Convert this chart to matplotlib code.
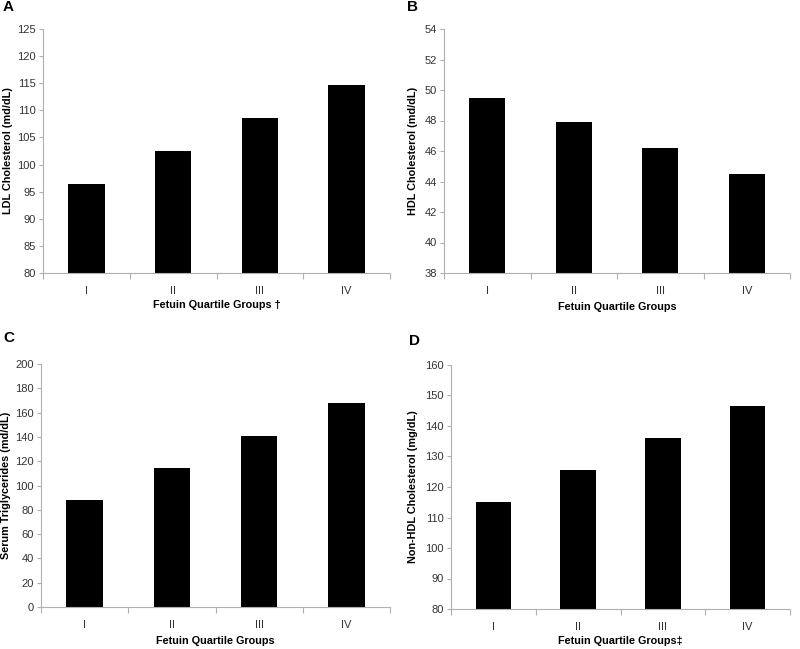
import numpy as np
import matplotlib
matplotlib.use("Agg")
import matplotlib.pyplot as plt

plt.rcParams['font.family'] = ['Liberation Sans', 'DejaVu Sans']

groups = ['I', 'II', 'III', 'IV']
ldl = [96.4, 102.5, 108.6, 114.7]
hdl = [49.5, 47.9, 46.2, 44.5]
trig = [87.8, 114.0, 140.9, 167.7]
nonhdl = [115.2, 125.6, 136.2, 146.6]

W, H = 800, 649
fig = plt.figure(figsize=(8, 6.49), dpi=100)

# box = (left, right, top, bottom) in pixels; ylab_x / xlab_y = label centres
panels = [
    dict(box=(43, 390, 29, 273), letter='A', lpos=(3, 7), vals=ldl,
         ylim=(80, 125), step=5, ylabel='LDL Cholesterol (md/dL)',
         xlabel='Fetuin Quartile Groups \u2020', ylab_x=8, xlab_y=305),
    dict(box=(444, 790, 29, 273), letter='B', lpos=(407, 7), vals=hdl,
         ylim=(38, 54), step=2, ylabel='HDL Cholesterol (md/dL)',
         xlabel='Fetuin Quartile Groups', ylab_x=413, xlab_y=307),
    dict(box=(41, 390, 364, 607), letter='C', lpos=(3, 338), vals=trig,
         ylim=(0, 200), step=20, ylabel='Serum Triglycerides (md/dL)',
         xlabel='Fetuin Quartile Groups', ylab_x=6, xlab_y=641),
    dict(box=(451, 790, 365, 609), letter='D', lpos=(409, 341), vals=nonhdl,
         ylim=(80, 160), step=10, ylabel='Non-HDL Cholesterol (mg/dL)',
         xlabel='Fetuin Quartile Groups\u2021', ylab_x=413, xlab_y=641),
]

grey = '#b0b0b0'
for p in panels:
    l, r, t, b = p['box']
    ax = fig.add_axes([l / W, 1 - b / H, (r - l) / W, (b - t) / H])
    x = np.arange(len(groups))
    ax.bar(x, p['vals'], width=0.42, color='black', bottom=0)
    ax.set_xlim(-0.5, len(groups) - 0.5)
    ax.set_ylim(*p['ylim'])
    ax.set_yticks(np.arange(p['ylim'][0], p['ylim'][1] + 0.1, p['step']))
    ax.set_xticks(x)
    ax.set_xticklabels(groups)
    ax.set_xticks(np.arange(-0.5, len(groups)), minor=True)
    ax.tick_params(axis='x', which='major', length=0, pad=9, labelsize=8, labelcolor='#333333')
    ax.tick_params(axis='x', which='minor', length=4, color=grey, width=0.8)
    ax.tick_params(axis='y', length=3, color=grey, width=0.8, labelsize=8,
                   labelcolor='#333333', pad=2)
    for s in ['top', 'right']:
        ax.spines[s].set_visible(False)
    for s in ['left', 'bottom']:
        ax.spines[s].set_color(grey)
        ax.spines[s].set_linewidth(0.8)
    ax.set_ylabel(p['ylabel'], fontsize=7.8, fontweight='bold', va='center')
    ax.set_xlabel(p['xlabel'], fontsize=7.8, fontweight='bold', va='center')
    ax.yaxis.set_label_coords((p['ylab_x'] - l) / (r - l), 0.5)
    ax.xaxis.set_label_coords(0.5, (b - p['xlab_y']) / (b - t))
    fig.text(p['lpos'][0] / W, 1 - p['lpos'][1] / H, p['letter'],
             fontsize=11, fontweight='bold', va='center', ha='left')

fig.savefig('out.png', dpi=100)
